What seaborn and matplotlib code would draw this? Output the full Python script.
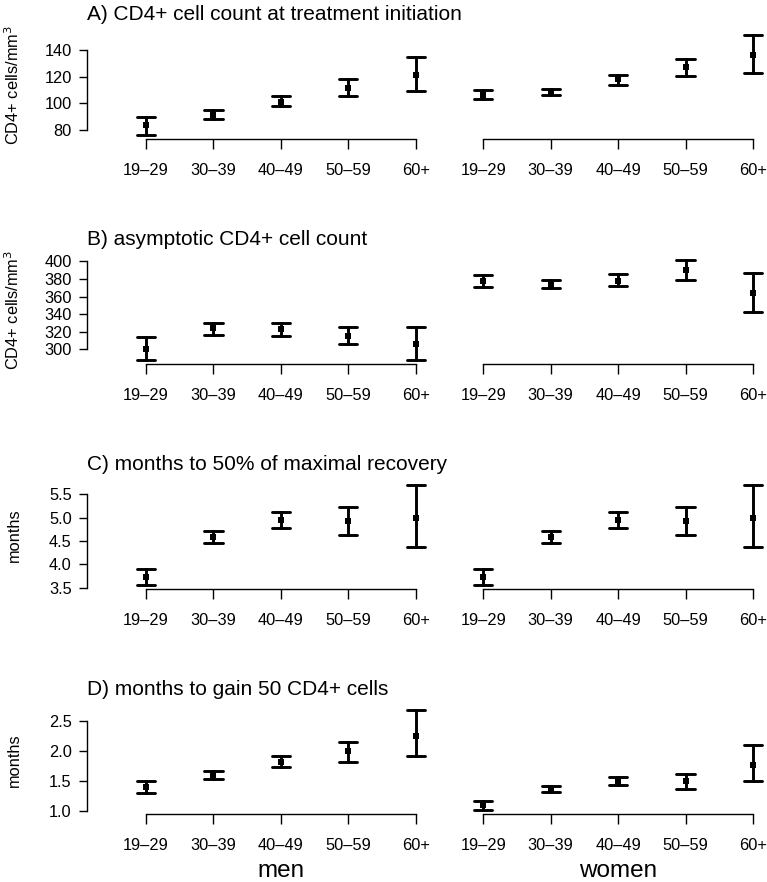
import matplotlib
matplotlib.use("Agg")
import matplotlib.pyplot as plt
import pandas as pd
import seaborn as sns

# age groups (x categories)
ages = ["19–29", "30–39", "40–49", "50–59", "60+"]

# A) CD4+ cell count at treatment initiation
a_men_est = [83.7, 91.1, 101.0, 111.7, 120.9]
a_men_lo = [76.8, 88.2, 97.8, 105.3, 109.5]
a_men_hi = [90.2, 95.4, 105.3, 117.9, 134.5]
a_women_est = [106.3, 108.5, 117.9, 126.8, 135.8]
a_women_lo = [103.3, 106.0, 114.0, 120.4, 122.9]
a_women_hi = [110.3, 111.0, 121.1, 133.0, 150.6]

# B) asymptotic CD4+ cell count
b_men_est = [300.8, 323.8, 323.0, 315.7, 306.5]
b_men_lo = [288.5, 316.9, 315.7, 305.7, 288.5]
b_men_hi = [314.2, 329.5, 329.5, 325.7, 325.3]
b_women_est = [377.4, 373.2, 377.8, 389.7, 364.0]
b_women_lo = [370.5, 369.7, 372.4, 378.9, 342.9]
b_women_hi = [384.7, 378.9, 385.4, 401.1, 386.6]

# C) months to 50% of maximal recovery
c_men_est = [3.73, 4.58, 4.94, 4.92, 4.99]
c_men_lo = [3.565, 4.46, 4.78, 4.63, 4.38]
c_men_hi = [3.89, 4.71, 5.12, 5.23, 5.69]
c_women_est = [3.73, 4.58, 4.94, 4.92, 4.99]
c_women_lo = [3.565, 4.46, 4.78, 4.63, 4.38]
c_women_hi = [3.89, 4.71, 5.12, 5.23, 5.69]

# D) months to gain 50 CD4+ cells
d_men_est = [1.41, 1.61, 1.82, 2.00, 2.26]
d_men_lo = [1.30, 1.54, 1.74, 1.83, 1.92]
d_men_hi = [1.51, 1.67, 1.92, 2.16, 2.68]
d_women_est = [1.10, 1.36, 1.51, 1.50, 1.78]
d_women_lo = [1.03, 1.32, 1.44, 1.38, 1.51]
d_women_hi = [1.17, 1.43, 1.58, 1.62, 2.11]

titles = [
    "A) CD4+ cell count at treatment initiation",
    "B) asymptotic CD4+ cell count",
    "C) months to 50% of maximal recovery",
    "D) months to gain 50 CD4+ cells",
]
ylabels = ["CD4+ cells/mm$^3$", "CD4+ cells/mm$^3$", "months", "months"]
yticks = [
    [80, 100, 120, 140],
    [300, 320, 340, 360, 380, 400],
    [3.5, 4.0, 4.5, 5.0, 5.5],
    [1.0, 1.5, 2.0, 2.5],
]
ytick_labels = [
    ["80", "100", "120", "140"],
    ["300", "320", "340", "360", "380", "400"],
    ["3.5", "4.0", "4.5", "5.0", "5.5"],
    ["1.0", "1.5", "2.0", "2.5"],
]

panels = [
    ((a_men_lo, a_men_est, a_men_hi), (a_women_lo, a_women_est, a_women_hi)),
    ((b_men_lo, b_men_est, b_men_hi), (b_women_lo, b_women_est, b_women_hi)),
    ((c_men_lo, c_men_est, c_men_hi), (c_women_lo, c_women_est, c_women_hi)),
    ((d_men_lo, d_men_est, d_men_hi), (d_women_lo, d_women_est, d_women_hi)),
]


def long_form(lo, est, hi):
    # three rows per age group: median -> estimate, min/max -> interval
    rows = []
    for age, l, e, h in zip(ages, lo, est, hi):
        for v in (l, e, h):
            rows.append({"age": age, "value": v})
    return pd.DataFrame(rows)


sns.set_style("ticks")
plt.rcParams["font.family"] = ["Liberation Sans", "DejaVu Sans"]
plt.rcParams.update({
    "axes.linewidth": 1.0,
    "axes.edgecolor": "black",
    "text.color": "black",
    "axes.labelcolor": "black",
    "xtick.color": "black",
    "ytick.color": "black",
})

W, H = 767, 882
fig = plt.figure(figsize=(W / 100, H / 100), dpi=100)

step = 67.44          # px between categories
x0_men = 146          # px of first men category
x0_women = x0_men + 5 * step
spine_x = 87          # px of y axis
split = 449.7         # px where men axes ends / women axes starts
bottoms = [138.5, 363.5, 588.5, 813.5]
height = 107

for i, ((men, women), title) in enumerate(zip(panels, titles)):
    b = 1 - bottoms[i] / H
    hh = height / H
    ax_m = fig.add_axes([spine_x / W, b, (split - spine_x) / W, hh])
    ax_w = fig.add_axes([split / W, b, (W - split) / W, hh], sharey=ax_m)

    for ax, vals in ((ax_m, men), (ax_w, women)):
        df = long_form(*vals)
        sns.pointplot(
            data=df, x="age", y="value", order=ages,
            estimator="median", errorbar=lambda v: (v.min(), v.max()),
            color="black", capsize=0.27, err_kws={"linewidth": 2.1},
            marker="s", markersize=4.6, markeredgewidth=0, linestyle="none",
            ax=ax,
        )
        ax.set_xlabel("")
        ax.set_ylabel("")
        ax.spines["top"].set_visible(False)
        ax.spines["right"].set_visible(False)
        ax.spines["bottom"].set_bounds(0, 4)
        ax.tick_params(axis="x", length=7.2, width=1.0, pad=10.5, labelsize=11.8)

    ax_m.set_xlim(-(x0_men - spine_x) / step, (split - x0_men) / step)
    ax_w.set_xlim(-(x0_women - split) / step, (W - x0_women) / step)

    lo = min(min(men[0]), min(women[0]))
    hi = max(max(men[2]), max(women[2]))
    pad = 0.04 * (hi - lo)
    ax_m.set_ylim(lo - pad, hi + pad)
    ax_m.set_yticks(yticks[i])
    ax_m.set_yticklabels(ytick_labels[i])
    ax_m.spines["left"].set_bounds(yticks[i][0], yticks[i][-1])
    ax_m.tick_params(axis="y", length=6, width=1.0, pad=5, labelsize=11.8)

    ax_w.spines["left"].set_visible(False)
    ax_w.tick_params(axis="y", left=False, labelleft=False)

    ax_m.set_ylabel(ylabels[i], fontsize=11.8)
    ax_m.yaxis.set_label_coords(-(spine_x - 22) / (split - spine_x), 0.5)
    ax_m.set_title(title, loc="left", fontsize=15, pad=8)

fig.text((x0_men + 2 * step) / W, 1 - 871 / H, "men", ha="center", va="center", fontsize=17.5)
fig.text((x0_women + 2 * step) / W, 1 - 871 / H, "women", ha="center", va="center", fontsize=17.5)

fig.savefig("out.png", dpi=100)
